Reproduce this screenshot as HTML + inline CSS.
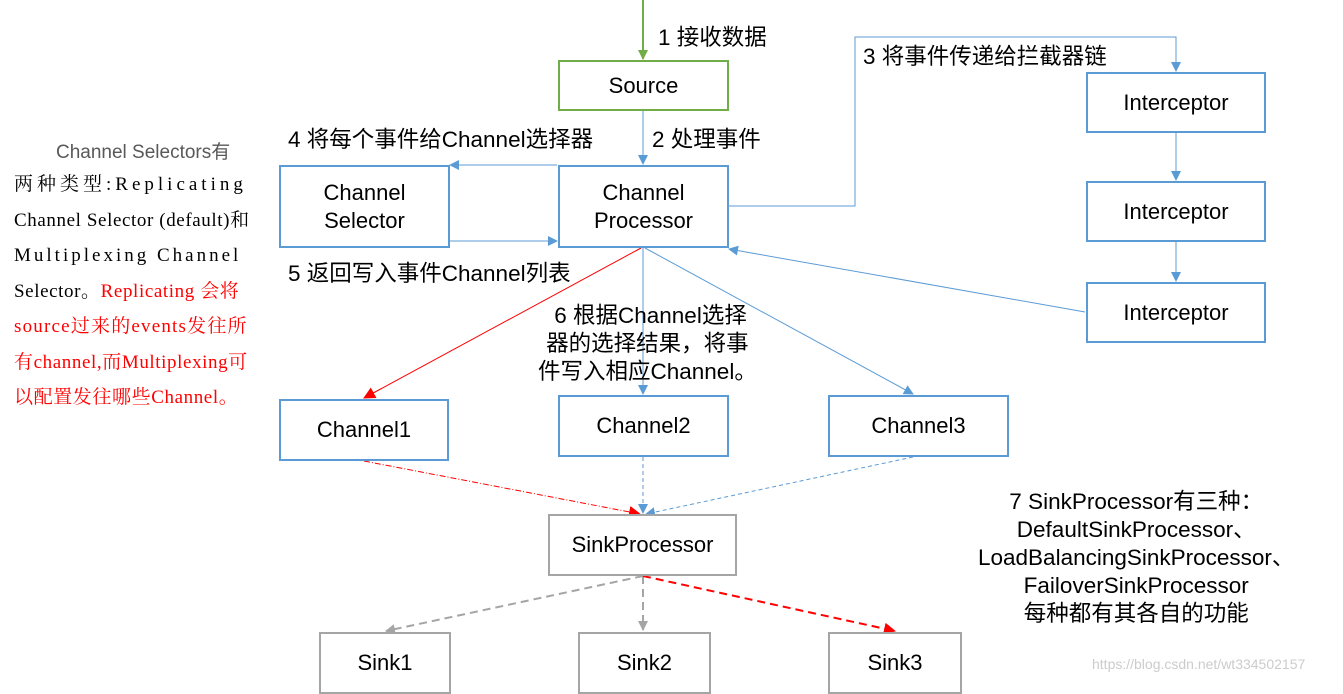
<!DOCTYPE html>
<html><head><meta charset="utf-8"><style>
body{margin:0;width:1343px;height:685px;background:#fff;overflow:hidden;position:relative;font-family:"Liberation Sans","Noto Sans CJK SC",sans-serif}
.b{position:absolute;box-sizing:border-box;border:2px solid #5b9bd5;background:#fff;display:flex;align-items:center;justify-content:center;text-align:center;font-size:22px;line-height:28px;color:#000}
.g{border-color:#a5a5a5}
.t{position:absolute;font-size:22.5px;color:#000;white-space:nowrap}
.n{position:absolute;left:14px;width:240px;font-family:"Liberation Serif","Noto Serif CJK SC",serif;font-size:19px;letter-spacing:.6px;line-height:35.5px;white-space:nowrap}
</style></head><body>
<svg width="1343" height="685" style="position:absolute;left:0;top:0">
<defs>
<marker id="ab" markerWidth="10" markerHeight="10" refX="9" refY="5" orient="auto" markerUnits="userSpaceOnUse"><path d="M0,0L10,5L0,10z" fill="#5b9bd5"/></marker>
<marker id="ar" markerWidth="12" markerHeight="12" refX="11" refY="6" orient="auto" markerUnits="userSpaceOnUse"><path d="M0,0L12,6L0,12z" fill="#f00"/></marker>
<marker id="ag" markerWidth="10" markerHeight="10" refX="9" refY="5" orient="auto" markerUnits="userSpaceOnUse"><path d="M0,0L10,5L0,10z" fill="#a5a5a5"/></marker>
<marker id="agr" markerWidth="10" markerHeight="10" refX="9" refY="5" orient="auto" markerUnits="userSpaceOnUse"><path d="M0,0L10,5L0,10z" fill="#70ad47"/></marker>
</defs>
<line x1="643" y1="0" x2="643" y2="59" stroke="#70ad47" stroke-width="2" marker-end="url(#agr)"/>
<line x1="643" y1="111" x2="643" y2="164" stroke="#5b9bd5" marker-end="url(#ab)"/>
<polyline points="729,206 855,206 855,37 1176,37 1176,71" fill="none" stroke="#5b9bd5" marker-end="url(#ab)"/>
<line x1="1176" y1="133" x2="1176" y2="180" stroke="#5b9bd5" marker-end="url(#ab)"/>
<line x1="1176" y1="242" x2="1176" y2="281" stroke="#5b9bd5" marker-end="url(#ab)"/>
<line x1="1085" y1="312" x2="729" y2="249" stroke="#5b9bd5" marker-end="url(#ab)"/>
<line x1="557" y1="165" x2="450" y2="165" stroke="#5b9bd5" marker-end="url(#ab)"/>
<line x1="450" y1="241" x2="557" y2="241" stroke="#5b9bd5" marker-end="url(#ab)"/>
<line x1="641" y1="248" x2="364" y2="398" stroke="#f00" marker-end="url(#ar)"/>
<line x1="643" y1="248" x2="643" y2="394" stroke="#5b9bd5" marker-end="url(#ab)"/>
<line x1="645" y1="248" x2="913" y2="394" stroke="#5b9bd5" marker-end="url(#ab)"/>
<line x1="364" y1="461" x2="640" y2="514" stroke="#f00" stroke-dasharray="6,2,1,2" marker-end="url(#ar)"/>
<line x1="643" y1="457" x2="643" y2="513" stroke="#5b9bd5" stroke-dasharray="4,3" marker-end="url(#ab)"/>
<line x1="913" y1="457" x2="646" y2="514" stroke="#5b9bd5" stroke-dasharray="4,3" marker-end="url(#ab)"/>
<line x1="643" y1="576" x2="386" y2="631" stroke="#a5a5a5" stroke-width="2" stroke-dasharray="8,5" marker-end="url(#ag)"/>
<line x1="643" y1="576" x2="643" y2="630" stroke="#a5a5a5" stroke-width="2" stroke-dasharray="8,5" marker-end="url(#ag)"/>
<line x1="643" y1="576" x2="895" y2="631" stroke="#f00" stroke-width="2" stroke-dasharray="8,5" marker-end="url(#ar)"/>
</svg>
<div class="b" style="left:558px;top:60px;width:171px;height:51px;border-color:#70ad47">Source</div>
<div class="b" style="left:558px;top:165px;width:171px;height:83px">Channel<br>Processor</div>
<div class="b" style="left:279px;top:165px;width:171px;height:83px">Channel<br>Selector</div>
<div class="b" style="left:1086px;top:72px;width:180px;height:61px">Interceptor</div>
<div class="b" style="left:1086px;top:181px;width:180px;height:61px">Interceptor</div>
<div class="b" style="left:1086px;top:282px;width:180px;height:61px">Interceptor</div>
<div class="b" style="left:279px;top:399px;width:170px;height:62px">Channel1</div>
<div class="b" style="left:558px;top:395px;width:171px;height:62px">Channel2</div>
<div class="b" style="left:828px;top:395px;width:181px;height:62px">Channel3</div>
<div class="b g" style="left:548px;top:514px;width:189px;height:62px">SinkProcessor</div>
<div class="b g" style="left:319px;top:632px;width:132px;height:62px;align-items:flex-start;padding-top:15px">Sink1</div>
<div class="b g" style="left:578px;top:632px;width:133px;height:62px;align-items:flex-start;padding-top:15px">Sink2</div>
<div class="b g" style="left:828px;top:632px;width:134px;height:62px;align-items:flex-start;padding-top:15px">Sink3</div>
<div class="t" style="left:658px;top:20px">1 接收数据</div>
<div class="t" style="left:652px;top:122px">2 处理事件</div>
<div class="t" style="left:863px;top:39px">3 将事件传递给拦截器链</div>
<div class="t" style="left:288px;top:122px">4 将每个事件给Channel选择器</div>
<div class="t" style="left:288px;top:256px">5 返回写入事件Channel列表</div>
<div class="t" style="left:538px;top:302px;line-height:28px;text-align:center">&nbsp;6 根据Channel选择<br>器的选择结果，将事<br>件写入相应Channel。</div>
<div class="t" style="left:978px;top:488px;line-height:28px;text-align:center">7 SinkProcessor有三种：<br>DefaultSinkProcessor、<br>LoadBalancingSinkProcessor、<br>FailoverSinkProcessor<br>每种都有其各自的功能</div>
<div class="t" style="left:56px;top:137px;font-size:19px;color:#595959">Channel Selectors有</div>
<div class="n" style="top:167px;letter-spacing:4px">两种类型:Replicating</div>
<div class="n" style="top:203px">Channel Selector (default)和</div>
<div class="n" style="top:238px;letter-spacing:3px">Multiplexing Channel</div>
<div class="n" style="top:274px">Selector。<span style="color:#f00">Replicating 会将</span></div>
<div class="n" style="top:309px;color:#f00;letter-spacing:1.2px">source过来的events发往所</div>
<div class="n" style="top:345px;color:#f00">有channel,而Multiplexing可</div>
<div class="n" style="top:380px;color:#f00">以配置发往哪些Channel。</div>
<div class="t" style="left:1092px;top:656px;font-size:14px;color:#ccc">https://blog.csdn.net/wt334502157</div>
</body></html>
